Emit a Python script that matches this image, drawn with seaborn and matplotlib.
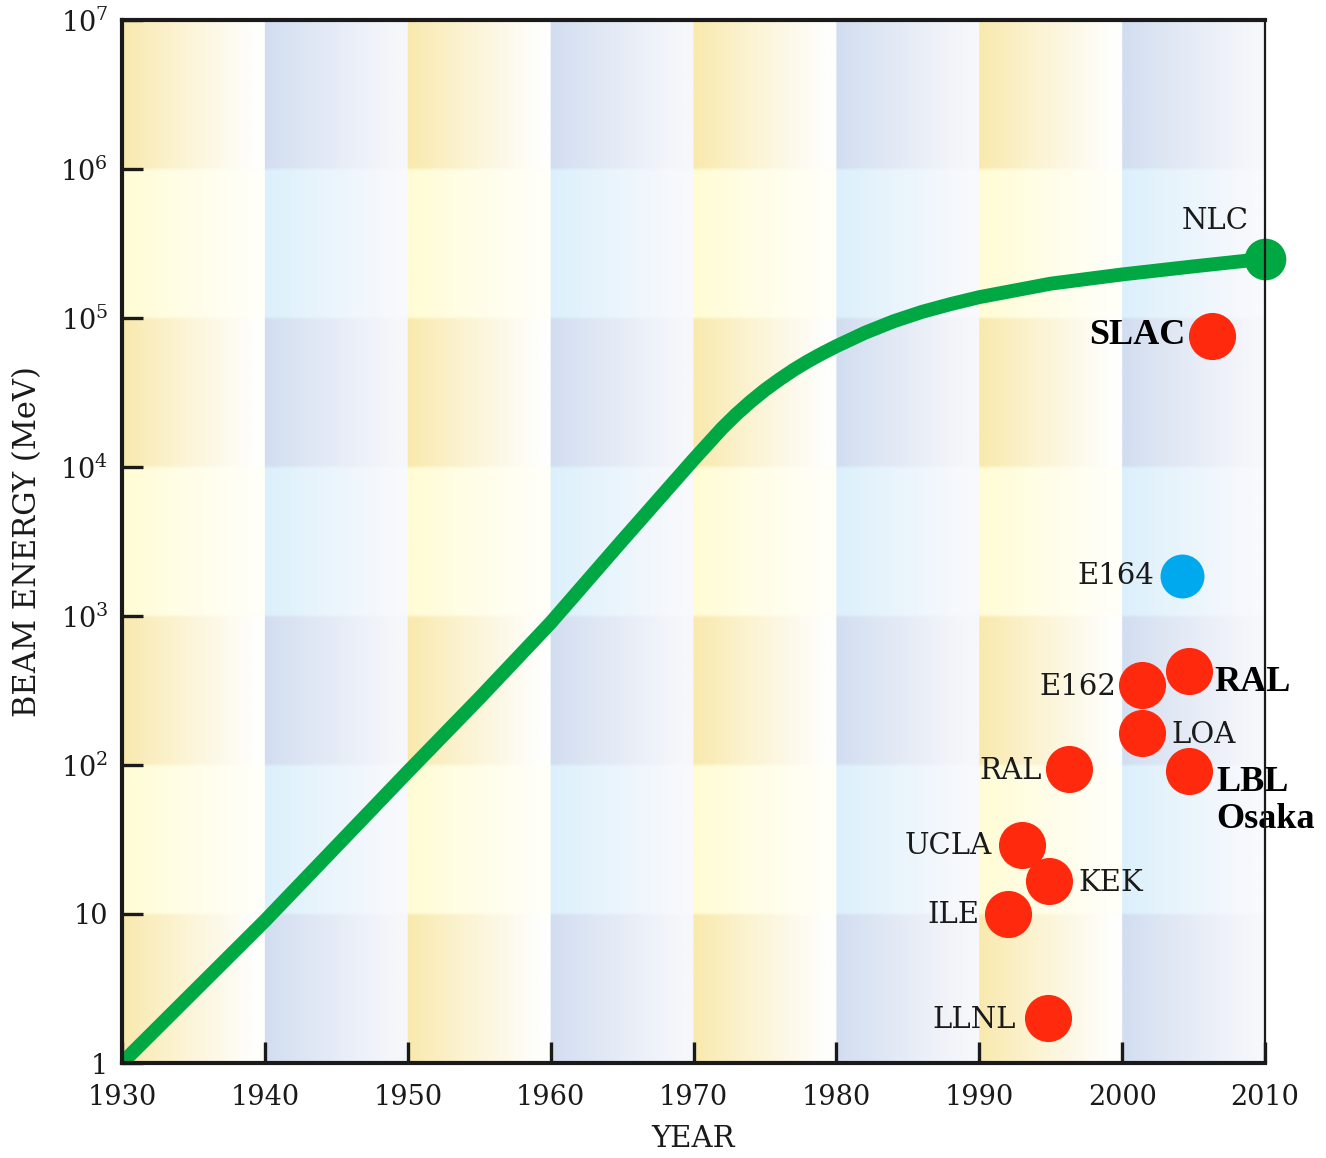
import numpy as np
import matplotlib
matplotlib.use("Agg")
import matplotlib.pyplot as plt
from matplotlib.ticker import NullLocator
import seaborn as sns

# ---------------- data ----------------
curve_years = [1930, 1940, 1950, 1955, 1960, 1965, 1970, 1972, 1973, 1974,
               1975, 1976, 1977, 1978, 1979, 1980, 1982, 1984, 1986, 1988,
               1990, 1995, 2000, 2005, 2010]
curve_energy = [1, 9, 90, 280, 900, 3200, 1.12e4, 1.82e4, 2.26e4, 2.75e4,
                3.29e4, 3.86e4, 4.48e4, 5.12e4, 5.78e4, 6.47e4, 7.96e4, 9.5e4,
                1.1e5, 1.24e5, 1.38e5, 1.7e5, 1.96e5, 2.22e5, 2.5e5]

lab_names = ["SLAC", "RAL", "E162", "LOA", "LBL\nOsaka", "RAL", "UCLA", "KEK", "ILE", "LLNL"]
lab_years = [2006.3, 2004.7, 2001.4, 2001.4, 2004.7, 1996.3, 1993.0, 1994.9, 1992.0, 1994.8]
lab_energy = [7.6e4, 430, 345, 164, 91, 94, 29, 16.6, 10, 2.0]

e164_name = ["E164"]
e164_year = [2004.2]
e164_energy = [1850]

nlc_name = "NLC"

x_ticks = [1930, 1940, 1950, 1960, 1970, 1980, 1990, 2000, 2010]
y_ticks = [1, 10, 1e2, 1e3, 1e4, 1e5, 1e6, 1e7]
y_tick_labels = ["1", "10", r"$\mathregular{10^2}$", r"$\mathregular{10^3}$",
                 r"$\mathregular{10^4}$", r"$\mathregular{10^5}$",
                 r"$\mathregular{10^6}$", r"$\mathregular{10^7}$"]
x_label = "YEAR"
y_label = "BEAM ENERGY (MeV)"

# ---------------- style ----------------
sns.set_style("ticks")
plt.rcParams["font.family"] = ["DejaVu Serif"]
plt.rcParams["mathtext.fontset"] = "dejavuserif"
plt.rcParams["xtick.direction"] = "in"
plt.rcParams["ytick.direction"] = "in"

GREEN = "#00A843"
RED = "#FF2A0E"
BLUE = "#00A9EE"
INK = "#1a1a1a"

# label placement (pixel offsets, alignment, bold)
lab_style = [
    dict(dx=-27, dy=0, ha="right", bold=True),    # SLAC
    dict(dx=25, dy=-12, ha="left", bold=True),    # RAL bold
    dict(dx=-26, dy=-2, ha="right", bold=False),  # E162
    dict(dx=29, dy=-2, ha="left", bold=False),    # LOA
    dict(dx=27, dy=-30, ha="left", bold=True),    # LBL Osaka
    dict(dx=-27, dy=-2, ha="right", bold=False),  # RAL
    dict(dx=-30, dy=-1, ha="right", bold=False),  # UCLA
    dict(dx=29, dy=-2, ha="left", bold=False),    # KEK
    dict(dx=-28, dy=-1, ha="right", bold=False),  # ILE
    dict(dx=-32, dy=-2, ha="right", bold=False),  # LLNL
]

W, H, DPI = 1326, 1158, 100
fig = plt.figure(figsize=(W / DPI, H / DPI), dpi=DPI)
pos = [122 / W, 1 - 1063 / H, (1265 - 122) / W, (1063 - 20) / H]

# ---------------- background checkerboard ----------------
bg = fig.add_axes(pos, zorder=0)
ncol, nrow = 8, 7
cw, rh = 140, 40
t = np.linspace(0, 1, cw)
f = np.clip(t / 0.92, 0, 1) ** 0.9
cols = {
    ("y", True): (np.array([249, 233, 172]), np.array([254, 254, 252])),
    ("y", False): (np.array([255, 252, 212]), np.array([255, 255, 248])),
    ("b", True): (np.array([209, 221, 240]), np.array([246, 247, 251])),
    ("b", False): (np.array([219, 240, 251]), np.array([248, 249, 253])),
}
img = np.zeros((nrow * rh, ncol * cw, 3))
for r in range(nrow):
    dark = (r % 2 == 0)
    for c in range(ncol):
        kind = "y" if c % 2 == 0 else "b"
        a, b = cols[(kind, dark)]
        strip = a[None, :] + (b - a)[None, :] * f[:, None]
        img[r * rh:(r + 1) * rh, c * cw:(c + 1) * cw, :] = strip[None, :, :] / 255.0
bg.imshow(img, extent=(0, 1, 0, 1), aspect="auto", interpolation="bilinear")
bg.set_xlim(0, 1)
bg.set_ylim(0, 1)
bg.axis("off")

# ---------------- main axes ----------------
ax = fig.add_axes(pos, zorder=1)
ax.patch.set_visible(False)
ax.set_yscale("log")

sns.lineplot(x=curve_years, y=curve_energy, ax=ax, color=GREEN, linewidth=10,
             solid_capstyle="round", solid_joinstyle="round", zorder=2)
sns.scatterplot(x=[curve_years[-1]], y=[curve_energy[-1]], ax=ax, color=GREEN,
                s=900, linewidth=0, zorder=4, clip_on=False)
sns.scatterplot(x=lab_years, y=lab_energy, ax=ax, color=RED, s=1150,
                linewidth=0, zorder=3)
sns.scatterplot(x=e164_year, y=e164_energy, ax=ax, color=BLUE, s=1000,
                linewidth=0, zorder=3)

for name, xv, yv, st in zip(lab_names, lab_years, lab_energy, lab_style):
    if st["bold"]:
        fp = dict(family="Liberation Serif", fontweight="bold", fontsize=26,
                  color="black", linespacing=1.15)
    else:
        fp = dict(family="DejaVu Serif", fontsize=21, color=INK)
    ax.annotate(name, xy=(xv, yv), xytext=(st["dx"], st["dy"]),
                textcoords="offset pixels", ha=st["ha"], va="center",
                zorder=5, annotation_clip=False, **fp)

ax.annotate(e164_name[0], xy=(e164_year[0], e164_energy[0]), xytext=(-28, 0),
            textcoords="offset pixels", ha="right", va="center",
            fontsize=21, color=INK, zorder=5)
ax.annotate(nlc_name, xy=(curve_years[-1], curve_energy[-1]), xytext=(-16, 38),
            textcoords="offset pixels", ha="right", va="center",
            fontsize=21, color=INK, zorder=5, annotation_clip=False)

ax.set_xlim(1930, 2010)
ax.set_ylim(1, 1e7)
ax.set_xticks(x_ticks)
ax.set_xticklabels([str(v) for v in x_ticks])
ax.set_yticks(y_ticks)
ax.set_yticklabels(y_tick_labels)
ax.yaxis.set_minor_locator(NullLocator())

ax.tick_params(axis="both", which="both", direction="in", length=15, width=2.4,
               color=INK, labelsize=19.5, labelcolor=INK)
ax.tick_params(axis="x", pad=15)
ax.tick_params(axis="y", pad=10)

for side, lw in (("left", 3.0), ("top", 3.0), ("bottom", 3.0), ("right", 1.6)):
    ax.spines[side].set_visible(True)
    ax.spines[side].set_linewidth(lw)
    ax.spines[side].set_color(INK)
    ax.spines[side].set_zorder(6)

ax.set_xlabel(x_label, fontsize=21, color=INK, labelpad=10)
ax.set_ylabel(y_label, fontsize=22, color=INK, labelpad=12)

fig.savefig("out.png", dpi=DPI)
